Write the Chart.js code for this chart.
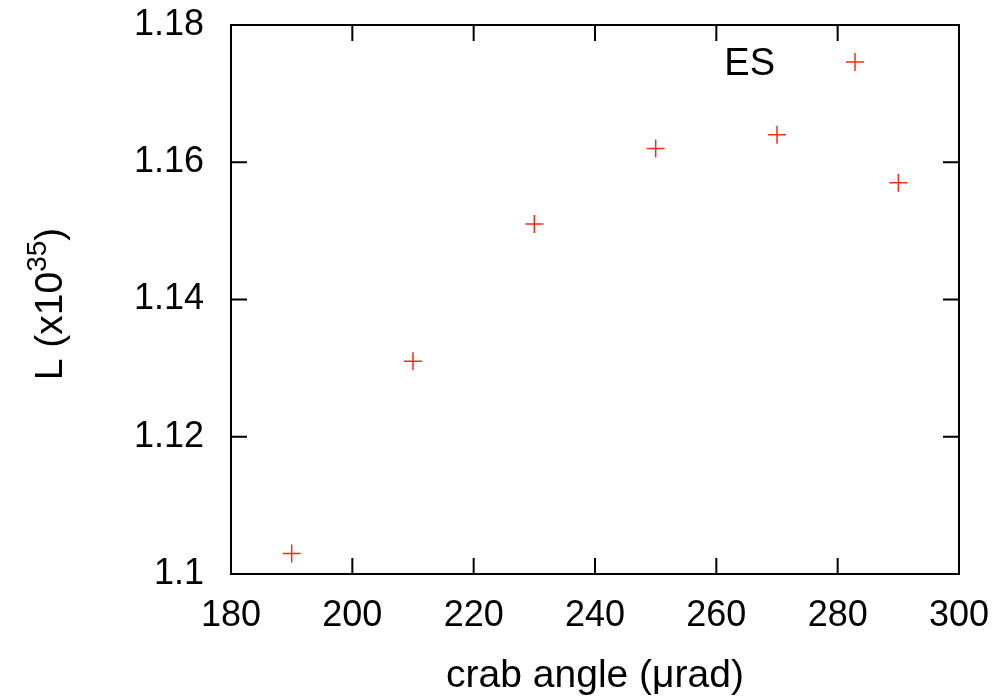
<!DOCTYPE html>
<html>
<head>
<meta charset="utf-8">
<script src="https://cdn.jsdelivr.net/npm/chart.js@4/dist/chart.umd.min.js"></script>
<style>
  body { margin: 0; background: #fff; }
  #wrap { width: 1003px; height: 696px; }
</style>
</head>
<body>
<div id="wrap"><canvas id="c"></canvas></div>
<script>
const angles = [190, 210, 230, 250, 270, 290];
const lumi = [1.103, 1.131, 1.151, 1.162, 1.164, 1.157];
const xTicks = [180, 200, 220, 240, 260, 280, 300];
const yTicks = [1.1, 1.12, 1.14, 1.16, 1.18];
const seriesName = 'ES';
const red = '#ff2a12';
const font = 'Liberation Sans, Arial, Helvetica, sans-serif';

// gnuplot-ish frame: box, inward ticks on all sides, axis titles and key
const frame = {
  id: 'frame',
  afterDraw(chart) {
    const ctx = chart.ctx;
    const a = chart.chartArea;
    const xs = chart.scales.x, ys = chart.scales.y;
    ctx.save();
    ctx.strokeStyle = '#000';
    ctx.lineWidth = 2;
    ctx.strokeRect(a.left, a.top, a.right - a.left, a.bottom - a.top);
    ctx.beginPath();
    xTicks.forEach(v => {
      const px = xs.getPixelForValue(v);
      ctx.moveTo(px, a.bottom); ctx.lineTo(px, a.bottom - 16);
      ctx.moveTo(px, a.top); ctx.lineTo(px, a.top + 16);
    });
    yTicks.forEach(v => {
      const py = ys.getPixelForValue(v);
      ctx.moveTo(a.left, py); ctx.lineTo(a.left + 16, py);
      ctx.moveTo(a.right, py); ctx.lineTo(a.right - 16, py);
    });
    ctx.stroke();

    ctx.fillStyle = '#000';
    ctx.textBaseline = 'alphabetic';
    // x title
    ctx.font = '39px ' + font;
    ctx.textAlign = 'center';
    ctx.fillText('crab angle (\u03bcrad)', (a.left + a.right) / 2, 687);

    // y title with superscript
    ctx.translate(62, 304);
    ctx.rotate(-Math.PI / 2);
    const p1 = 'L (x10', p2 = '35', p3 = ')';
    ctx.font = '39px ' + font;
    const w1 = ctx.measureText(p1).width, w3 = ctx.measureText(p3).width;
    ctx.font = '28px ' + font;
    const w2 = ctx.measureText(p2).width;
    const x0 = -(w1 + w2 + w3) / 2;
    ctx.textAlign = 'left';
    ctx.font = '39px ' + font;
    ctx.fillText(p1, x0, 0);
    ctx.font = '28px ' + font;
    ctx.fillText(p2, x0 + w1, -16);
    ctx.font = '39px ' + font;
    ctx.fillText(p3, x0 + w1 + w2, 0);
    ctx.restore();

    // key
    ctx.save();
    ctx.font = '38px ' + font;
    ctx.fillStyle = '#000';
    ctx.textAlign = 'right';
    ctx.textBaseline = 'alphabetic';
    ctx.fillText(seriesName, 775, 75);
    ctx.strokeStyle = red;
    ctx.lineWidth = 1.5;
    ctx.beginPath();
    ctx.moveTo(846, 62); ctx.lineTo(864, 62);
    ctx.moveTo(855, 53); ctx.lineTo(855, 71);
    ctx.stroke();
    ctx.restore();
  }
};

new Chart(document.getElementById('c'), {
  type: 'scatter',
  data: {
    datasets: [{
      label: seriesName,
      data: angles.map((x, i) => ({ x: x, y: lumi[i] })),
      pointStyle: 'cross',
      pointRadius: 9,
      pointHoverRadius: 9,
      borderColor: red,
      backgroundColor: red,
      borderWidth: 1.5
    }]
  },
  options: {
    responsive: true,
    maintainAspectRatio: false,
    animation: false,
    layout: { padding: { left: 0, top: 25, right: 44, bottom: 0 } },
    plugins: { legend: { display: false }, tooltip: { enabled: false } },
    scales: {
      x: {
        type: 'linear',
        min: 180, max: 300,
        afterBuildTicks: s => { s.ticks = xTicks.map(v => ({ value: v })); },
        afterFit: s => { s.height = 122; s.paddingLeft = 0; s.paddingRight = 0; },
        grid: { display: false, drawTicks: false },
        border: { display: false },
        ticks: { color: '#000', padding: 20, font: { family: font, size: 36 } }
      },
      y: {
        type: 'linear',
        min: 1.1, max: 1.18,
        afterBuildTicks: s => { s.ticks = yTicks.map(v => ({ value: v })); },
        afterFit: s => { s.width = 231; s.paddingTop = 0; s.paddingBottom = 0; },
        grid: { display: false, drawTicks: false },
        border: { display: false },
        ticks: {
          color: '#000', padding: 27, font: { family: font, size: 36 },
          callback: v => String(Math.round(v * 100) / 100)
        }
      }
    }
  },
  plugins: [frame]
});
</script>
</body>
</html>
